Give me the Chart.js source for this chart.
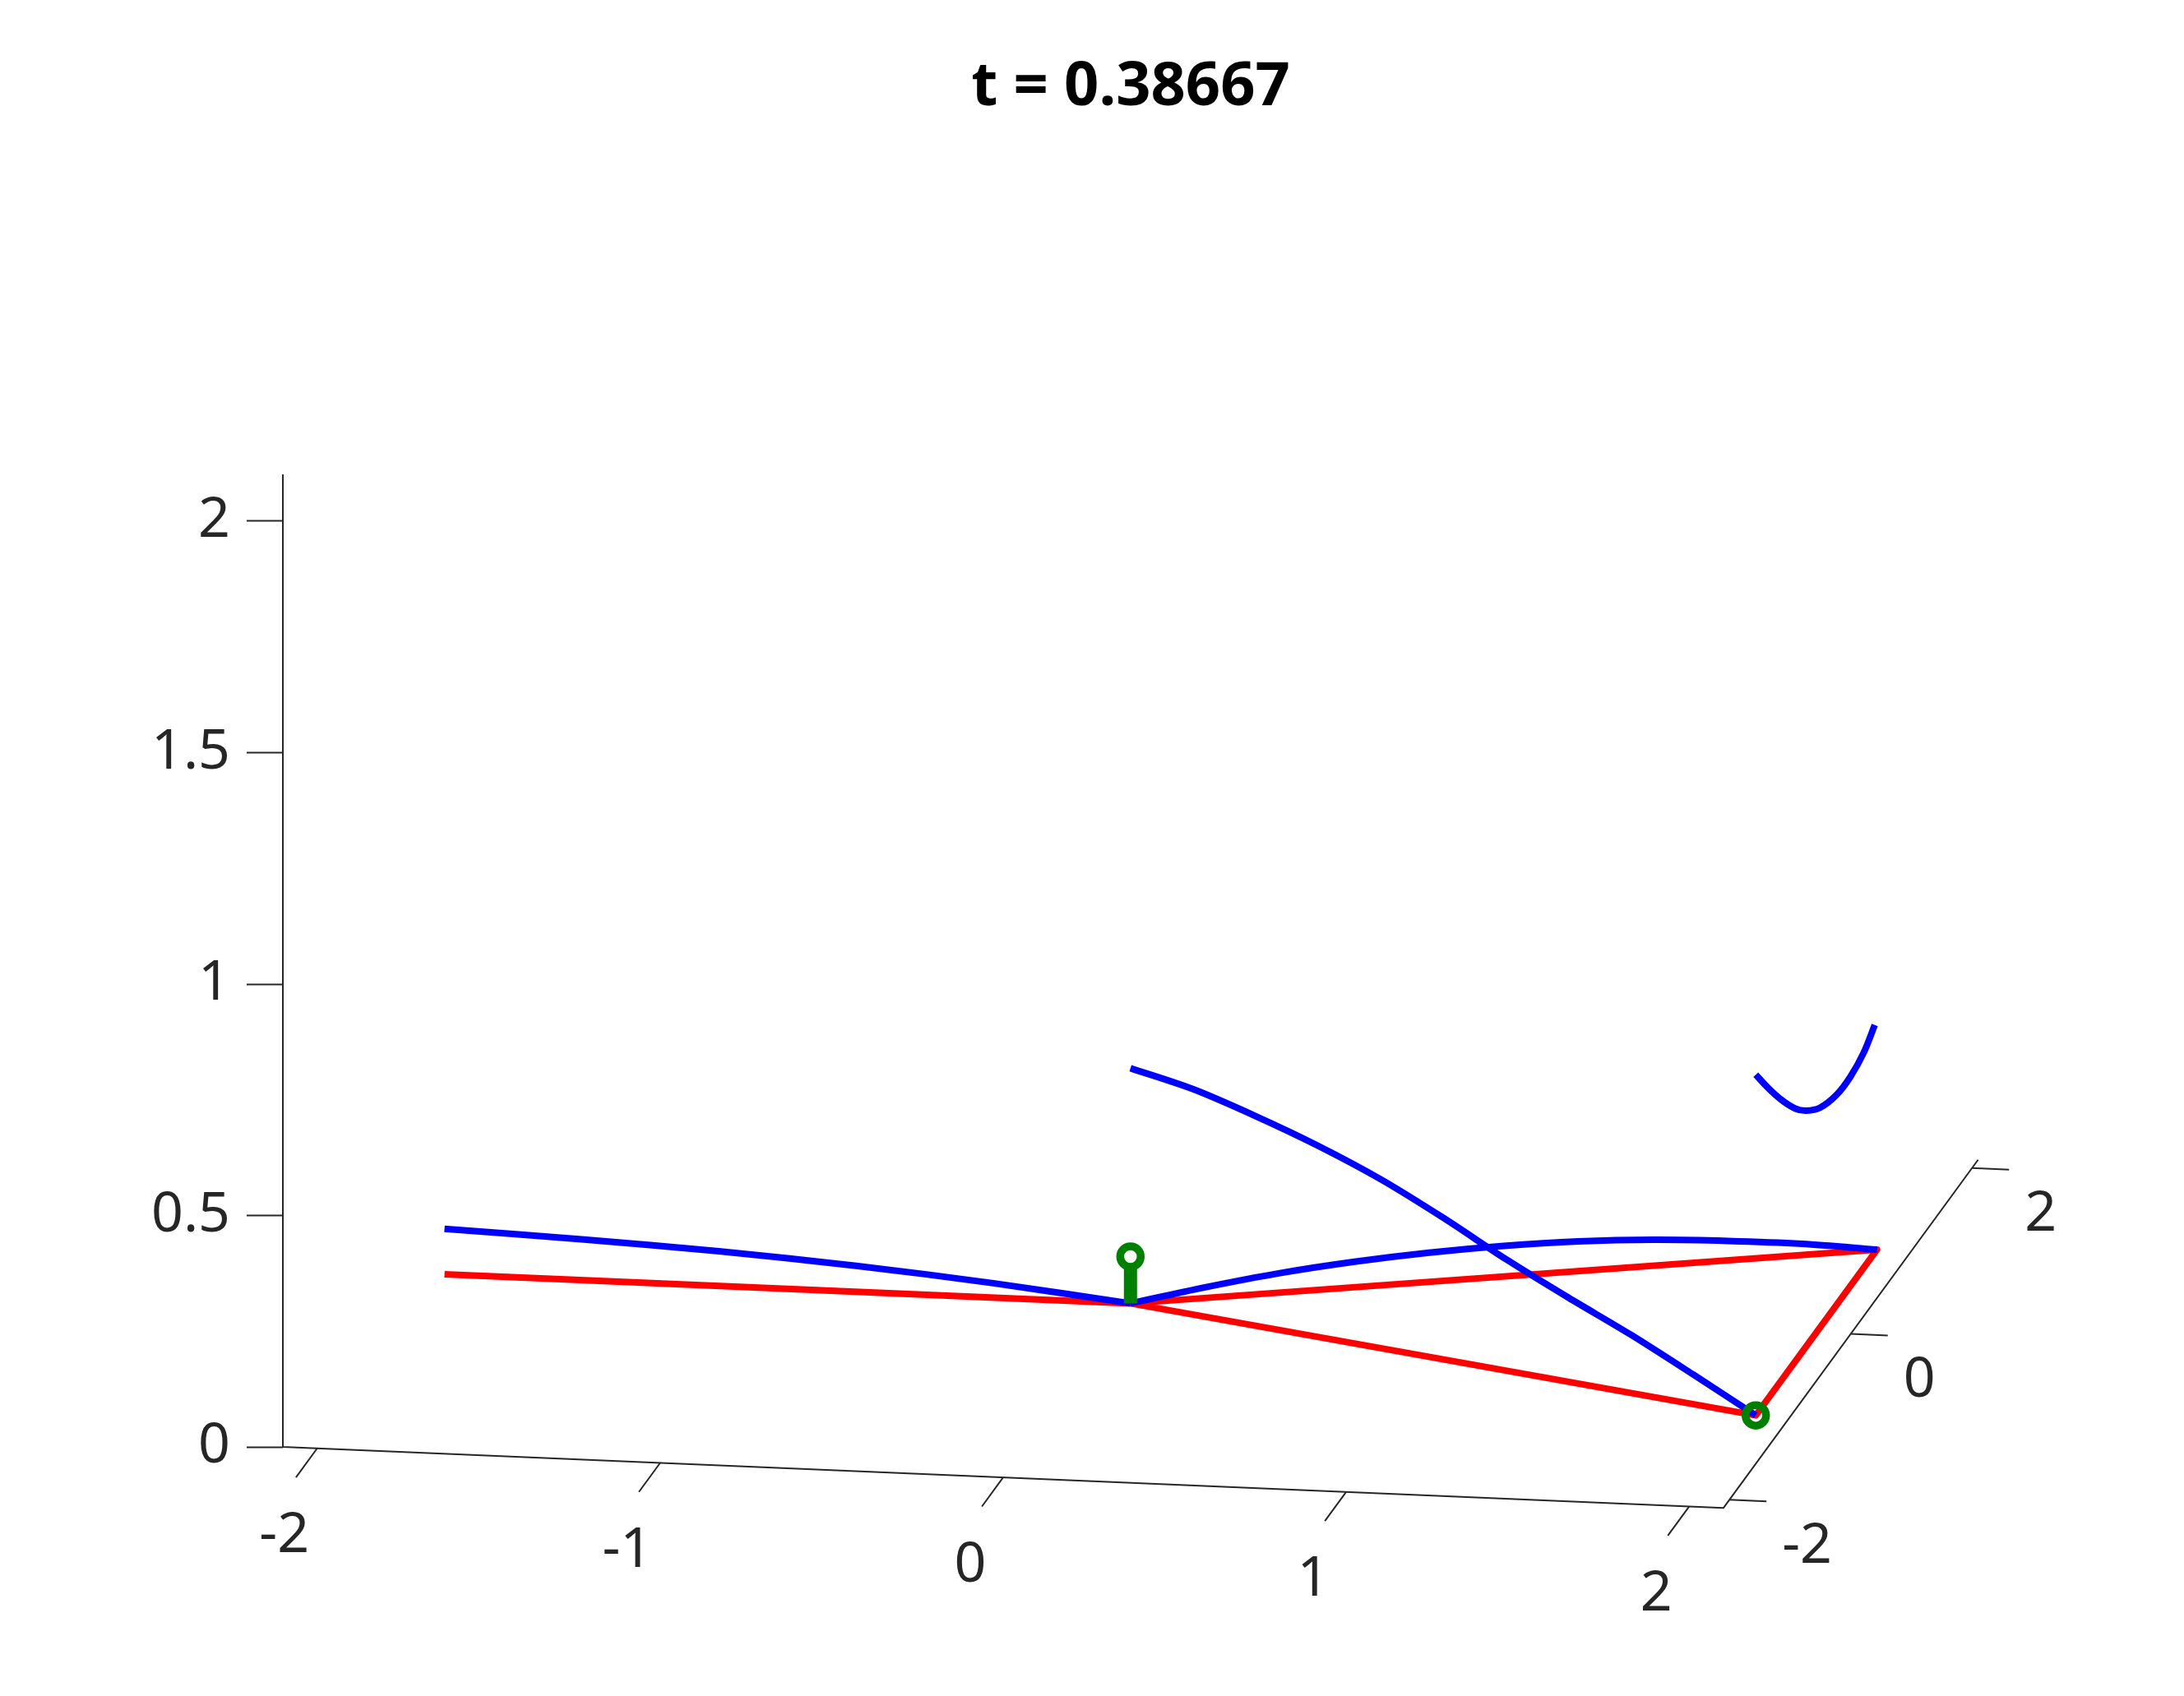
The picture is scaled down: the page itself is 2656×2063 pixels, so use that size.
<!DOCTYPE html>
<html>
<head>
<meta charset="utf-8">
<title>t = 0.38667</title>
<script src="https://cdn.jsdelivr.net/npm/chart.js@4.4.0/dist/chart.umd.min.js"></script>
<style>
html, body { margin: 0; padding: 0; background: #fff; }
canvas { display: block; }
</style>
</head>
<body>
<canvas id="frameChart" width="2656" height="2063"></canvas>
<script>
// axis limits and ticks
var xLim = [-2.1, 2.1];
var yLim = [-2.1, 2.1];
var zLim = [0, 2.1];
var xTicks = [-2, -1, 0, 1, 2];
var yTicks = [-2, 0, 2];
var zTicks = [0, 0.5, 1, 1.5, 2];

// undeformed frame (red)
var frameX = [-2, 0, 2, 2, 0];
var frameY = [0, 0, 1, -1, 0];
var frameZ = [0, 0, 0, 0, 0];

// deformed members (blue)
var beam1X = [-2, -1.6, -1.2, -0.8, -0.4, 0];
var beam1Y = [0, 0, 0, 0, 0, 0];
var beam1Z = [0.098, 0.088, 0.075, 0.056, 0.031, 0];

var beam2X = [0, 0.2, 0.4, 0.6, 0.8, 1.0, 1.2, 1.4, 1.6, 1.8, 2];
var beam2Y = [0, 0.1, 0.2, 0.3, 0.4, 0.5, 0.6, 0.7, 0.8, 0.9, 1];
var beam2Z = [0, 0.023, 0.042, 0.055, 0.063, 0.066, 0.064, 0.056, 0.042, 0.024, 0];

var beam3X = [0, 0.2, 0.4, 0.6, 0.8, 1.0, 1.2, 1.4, 1.6, 1.8, 2];
var beam3Y = [0, -0.1, -0.2, -0.3, -0.4, -0.5, -0.6, -0.7, -0.8, -0.9, -1];
var beam3Z = [0.508, 0.487, 0.453, 0.413, 0.365, 0.306, 0.241, 0.182, 0.126, 0.064, 0];

var beam4X = [2, 2, 2, 2, 2, 2, 2, 2, 2, 2];
var beam4Y = [-1, -0.8, -0.574, -0.348, -0.166, 0.058, 0.33, 0.556, 0.782, 0.962];
var beam4Z = [0.736, 0.672, 0.605, 0.546, 0.509, 0.475, 0.454, 0.452, 0.465, 0.492];

// load (green)
var stemX = [0, 0];
var stemY = [0, 0];
var stemZ = [0, 0.086];
var markX = [0, 2];
var markY = [0, -1];
var markZ = [0.101, 0];

var axisColor = '#262626';

// view: how one data unit moves on screen
var PX_PER_X = 417.1;          // x unit, horizontal
var PX_PER_Z = 563;            // z unit, vertical
var KY = 73.75 / PX_PER_X;     // y unit, horizontal, in x units
var BX = -17.7 / PX_PER_Z;     // x unit, vertical, in z units
var BY = 100.85 / PX_PER_Z;    // y unit, vertical, in z units
var AREA = { left: 344, right: 2406, top: 187.4, bottom: 1993 };
var Z0_PIX = 1760;

function project(x, y, z) {
  return {
    x: x + KY * y,
    y: z + BX * (x - xLim[0]) + BY * (y - yLim[0])
  };
}
function curve(xs, ys, zs) {
  return xs.map(function (x, i) { return project(x, ys[i], zs[i]); });
}
function segments(list) {
  var out = [];
  list.forEach(function (s) {
    out.push(project(s[0], s[1], s[2]), project(s[3], s[4], s[5]), { x: null, y: null });
  });
  return out;
}

var uMin = xLim[0] + KY * yLim[0];
var uMax = uMin + (AREA.right - AREA.left) / PX_PER_X;
var vMin = -(AREA.bottom - Z0_PIX) / PX_PER_Z;
var vMax = (Z0_PIX - AREA.top) / PX_PER_Z;

var axisLine = curve([xLim[0], xLim[0], xLim[1], xLim[1]],
                     [yLim[0], yLim[0], yLim[0], yLim[1]],
                     [zLim[1], zLim[0], zLim[0], zLim[0]]);
var xTickMarks = segments(xTicks.map(function (t) { return [t, yLim[0], 0, t, yLim[0] - 0.35, 0]; }));
var yTickMarks = segments(yTicks.map(function (t) { return [xLim[1], t, 0, xLim[1] + 0.108, t, 0]; }));

function lineSet(data, color, width, order, tension) {
  return {
    data: data, showLine: true, borderColor: color, borderWidth: width,
    pointRadius: 0, tension: tension || 0, clip: false, order: order,
    borderJoinStyle: 'round', spanGaps: false
  };
}

var axisLabels = {
  id: 'axisLabels',
  afterDatasetsDraw: function (chart) {
    var ctx = chart.ctx, sx = chart.scales.x, sy = chart.scales.y;
    ctx.save();
    ctx.font = '68px "Noto Sans"';
    ctx.fillStyle = axisColor;
    ctx.textBaseline = 'middle';
    ctx.textAlign = 'center';
    xTicks.forEach(function (t) {
      var p = project(t, yLim[0], zLim[0]);
      ctx.fillText(String(t), sx.getPixelForValue(p.x) - 40, sy.getPixelForValue(p.y) + 107);
    });
    ctx.textAlign = 'left';
    yTicks.forEach(function (t) {
      var p = project(xLim[1], t, zLim[0]);
      ctx.fillText(String(t), sx.getPixelForValue(p.x) + 64, sy.getPixelForValue(p.y) + 57);
    });
    ctx.restore();
  }
};

new Chart(document.getElementById('frameChart'), {
  type: 'scatter',
  data: {
    datasets: [
      lineSet(axisLine, axisColor, 2, 9),
      lineSet(xTickMarks, axisColor, 2, 9),
      lineSet(yTickMarks, axisColor, 2, 9),
      lineSet(curve(frameX, frameY, frameZ), 'rgb(255,0,0)', 8, 5),
      lineSet(curve(beam1X, beam1Y, beam1Z), 'rgb(0,0,255)', 8, 4, 0.3),
      lineSet(curve(beam2X, beam2Y, beam2Z), 'rgb(0,0,255)', 8, 4, 0.3),
      lineSet(curve(beam3X, beam3Y, beam3Z), 'rgb(0,0,255)', 8, 4, 0.3),
      lineSet(curve(beam4X, beam4Y, beam4Z), 'rgb(0,0,255)', 8, 4, 0.3),
      Object.assign(lineSet(curve(stemX, stemY, stemZ), 'rgb(0,128,0)', 16, 2), { borderCapStyle: 'butt' }),
      {
        data: curve(markX, markY, markZ), showLine: false, clip: false, order: 1,
        pointStyle: 'circle', pointRadius: 12.5, pointBorderWidth: 9.5,
        pointBorderColor: 'rgb(0,128,0)', pointBackgroundColor: 'rgba(0,0,0,0)'
      }
    ]
  },
  options: {
    responsive: false,
    animation: false,
    events: [],
    layout: { padding: { top: 0, left: 0, right: 2656 - AREA.right, bottom: 2063 - AREA.bottom } },
    scales: {
      x: { type: 'linear', display: false, min: uMin, max: uMax },
      y: {
        type: 'linear', position: 'left', min: vMin, max: vMax,
        afterBuildTicks: function (s) { s.ticks = zTicks.map(function (v) { return { value: v }; }); },
        afterFit: function (s) { s.width = AREA.left; },
        border: { display: false },
        grid: { drawOnChartArea: false, drawTicks: true, tickLength: 44, tickColor: axisColor, tickWidth: 2 },
        ticks: {
          padding: 20, color: axisColor,
          font: { family: 'Noto Sans', size: 68 },
          callback: function (v) { return String(v); }
        }
      }
    },
    plugins: {
      legend: { display: false },
      tooltip: { enabled: false },
      title: {
        display: true, text: 't = 0.38667', fullSize: false, color: '#000',
        font: { family: 'Noto Sans', size: 74, weight: 'bold', lineHeight: 1.2 },
        padding: { top: 62.2, bottom: 36.4 }
      }
    }
  },
  plugins: [axisLabels]
});
</script>
</body>
</html>
